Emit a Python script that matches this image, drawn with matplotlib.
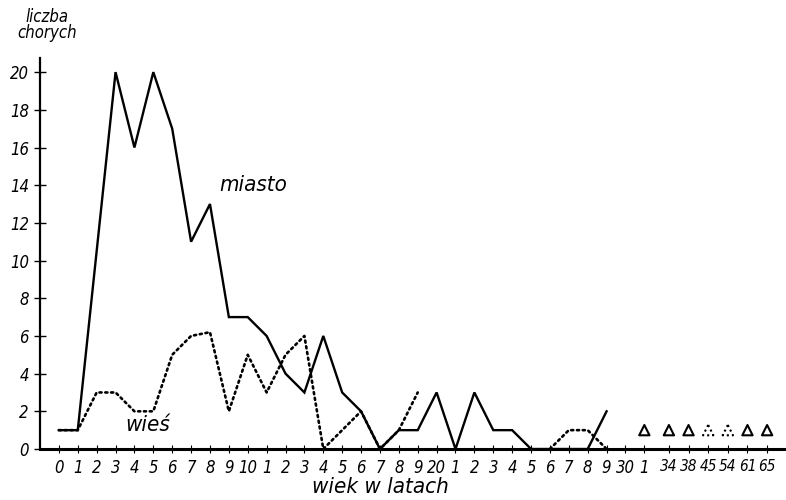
import numpy as np
import matplotlib
matplotlib.use("Agg")
import matplotlib.pyplot as plt

plt.rcParams['font.family'] = ['DejaVu Sans']
plt.rcParams['font.stretch'] = 'condensed'

# ages with continuous yearly data
ages = list(range(0, 30))
# number of cases, town (miasto)
miasto = [1, 1, 10.5, 20, 16, 20, 17, 11, 13, 7,
          7, 6, 4, 3, 6, 3, 2, 0, 1, 1,
          3, 0, 3, 1, 1, 0, 0, 0, 0, 2]
# number of cases, village (wieś); None = not drawn
wies = [1, 1, 3, 3, 2, 2, 5, 6, 6.2, 2,
        5, 3, 5, 6, 0, 1, 2, 0, 1, 3,
        None, None, None, None, None, None, 0, 1, 1, 0]
# isolated cases at older ages
old_ages = [30, 31, 34, 38, 45, 54, 61, 65]
old_miasto = [0, 1, 1, 1, 0, 0, 1, 1]
old_wies = [0, 0, 0, 0, 1, 1, 0, 0]

tick_labels = (['0', '1', '2', '3', '4', '5', '6', '7', '8', '9', '10',
                '1', '2', '3', '4', '5', '6', '7', '8', '9', '20',
                '1', '2', '3', '4', '5', '6', '7', '8', '9', '30',
                '1', '34', '38', '45', '54', '61', '65'])

# x positions: one slot per year up to 31, then narrower spacing
old_pos = [30, 31] + [32.3 + 1.04 * k for k in range(len(old_ages) - 2)]
positions = list(range(30)) + old_pos

fig = plt.figure(figsize=(7.86, 5.0), dpi=100)
ax = fig.add_axes([40 / 786, 1 - 449 / 500, 1 - 40 / 786, (449 - 58) / 500])

m = np.array(miasto, dtype=float)
w = np.array([np.nan if v is None else v for v in wies], dtype=float)

ax.plot(ages, m, color='black', lw=1.7, solid_joinstyle='miter', zorder=3)
ax.plot(ages, w, color='black', lw=1.9, linestyle=(0, (0.8, 1.4)),
        dash_capstyle='round', zorder=3)

mx = [p for p, v in zip(old_pos, old_miasto) if v > 0 and p > 30]
my = [v for p, v in zip(old_pos, old_miasto) if v > 0 and p > 30]
wx = [p for p, v in zip(old_pos, old_wies) if v > 0]
wy = [v for v in old_wies if v > 0]
ax.scatter(mx, my, marker='^', s=55, facecolors='none', edgecolors='black',
           linewidths=1.5, zorder=3)
ax.scatter(wx, wy, marker='^', s=55, facecolors='none', edgecolors='black',
           linewidths=1.5, linestyles=(0, (1, 1.5)), zorder=3)

ax.set_xlim(-1.0, 38.5)
ax.set_ylim(0, 20.75)

for s in ['top', 'right']:
    ax.spines[s].set_visible(False)
ax.spines['left'].set_linewidth(1.6)
ax.spines['bottom'].set_linewidth(2.2)

ax.set_xticks(positions)
ax.set_xticklabels(tick_labels, fontsize=12, fontstyle='italic')
for lbl in ax.get_xticklabels()[-6:]:
    lbl.set_fontsize(11)
ax.set_yticks(range(0, 21, 2))
ax.set_yticklabels([str(v) for v in range(0, 21, 2)], fontsize=12,
                   fontstyle='italic')
ax.tick_params(axis='x', direction='inout', length=6, width=0.8, pad=4)
ax.tick_params(axis='y', direction='inout', length=8, width=1.0, pad=4)

ax.text(8.5, 14.0, 'miasto', fontsize=16, fontstyle='italic', va='center',
        ha='left')
ax.text(3.5, 1.3, 'wieś', fontsize=16, fontstyle='italic', va='center',
        ha='left')

fig.text(47 / 786, 1 - 8 / 500, 'liczba\nchorych', fontsize=12,
         fontstyle='italic', ha='center', va='top', linespacing=0.85)
fig.text(380 / 786, 1 - 487 / 500, 'wiek w latach', fontsize=16,
         fontstyle='italic', ha='center', va='center')

fig.savefig('out.png', dpi=100, facecolor='white')
